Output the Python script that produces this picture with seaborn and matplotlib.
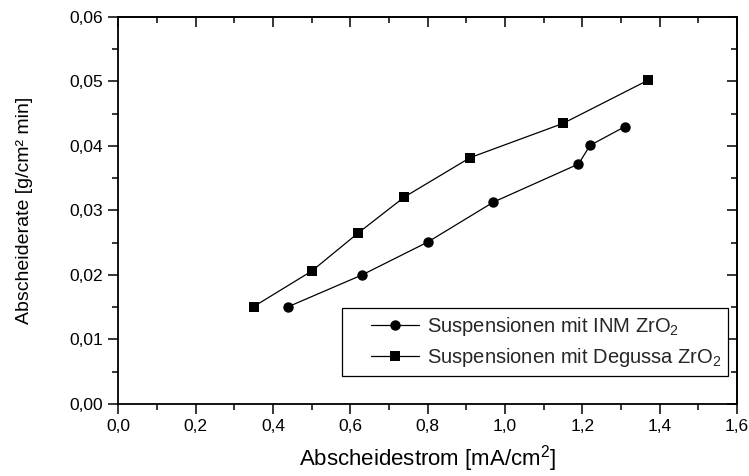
import matplotlib
matplotlib.use("Agg")
import matplotlib.pyplot as plt
from matplotlib.ticker import MultipleLocator, FuncFormatter
from matplotlib.legend_handler import HandlerLine2D
import seaborn as sns
import pandas as pd

# Deposition current density [mA/cm2] and deposition rate [g/(cm2 min)]
inm_current = [0.44, 0.63, 0.80, 0.97, 1.19, 1.22, 1.31]
inm_rate = [0.0151, 0.0200, 0.0251, 0.0313, 0.0372, 0.0401, 0.0430]
degussa_current = [0.35, 0.50, 0.62, 0.74, 0.91, 1.15, 1.37]
degussa_rate = [0.0151, 0.0206, 0.0265, 0.0321, 0.0382, 0.0435, 0.0502]

series_labels = ["Suspensionen mit INM ZrO$_2$", "Suspensionen mit Degussa ZrO$_2$"]
x_ticks = [0.0, 0.2, 0.4, 0.6, 0.8, 1.0, 1.2, 1.4, 1.6]
y_ticks = [0.00, 0.01, 0.02, 0.03, 0.04, 0.05, 0.06]

df = pd.concat([
    pd.DataFrame({"strom": inm_current, "rate": inm_rate, "serie": series_labels[0]}),
    pd.DataFrame({"strom": degussa_current, "rate": degussa_rate, "serie": series_labels[1]}),
], ignore_index=True)

sns.set_theme(style="white")
plt.rcParams["font.family"] = ["Liberation Sans", "DejaVu Sans"]
plt.rcParams["mathtext.fontset"] = "custom"
plt.rcParams["mathtext.rm"] = "Liberation Sans"
plt.rcParams["mathtext.it"] = "Liberation Sans"


class IndentedLineHandler(HandlerLine2D):
    """Line-marker-line handle that leaves an empty margin on its left."""

    def __init__(self, indent=0.3, **kw):
        super().__init__(**kw)
        self.indent = indent

    def create_artists(self, legend, orig_handle, xdescent, ydescent,
                       width, height, fontsize, trans):
        shift = width * self.indent
        return super().create_artists(legend, orig_handle, xdescent - shift,
                                      ydescent, width - shift, height,
                                      fontsize, trans)


fig = plt.figure(figsize=(7.49, 4.76), dpi=100)
ax = fig.add_axes([0.158, 0.1513, 0.826, 0.8130])

sns.lineplot(
    data=df, x="strom", y="rate", hue="serie", style="serie",
    palette=["black", "black"], markers={series_labels[0]: "o", series_labels[1]: "s"},
    dashes=False, markersize=7.5, markeredgewidth=0, linewidth=0.9,
    sort=False, ax=ax,
)

ax.set_xlim(0, 1.6)
ax.set_ylim(0, 0.06)
ax.set_xticks(x_ticks)
ax.set_yticks(y_ticks)
ax.xaxis.set_minor_locator(MultipleLocator(0.1))
ax.yaxis.set_minor_locator(MultipleLocator(0.005))
ax.xaxis.set_major_formatter(FuncFormatter(lambda v, p: f"{v:.1f}".replace(".", ",")))
ax.yaxis.set_major_formatter(FuncFormatter(lambda v, p: f"{v:.2f}".replace(".", ",")))

for s in ax.spines.values():
    s.set_color("black")
    s.set_linewidth(1.3)

ax.tick_params(axis="both", which="both", direction="out", color="black",
               labelsize=12.5, labelcolor="black", width=1.1,
               bottom=True, left=True, top=False, right=False)
ax.tick_params(which="major", length=7, pad=4)
ax.tick_params(which="minor", length=4)

# Mirrored inward ticks on the right and top sides
ax_r = ax.secondary_yaxis("right")
ax_r.set_yticks(y_ticks)
ax_r.yaxis.set_minor_locator(MultipleLocator(0.005))
ax_r.tick_params(which="both", direction="in", labelright=False, width=1.1, color="black")
ax_r.tick_params(which="major", length=7)
ax_r.tick_params(which="minor", length=4)
ax_r.spines["right"].set_linewidth(1.3)

ax_t = ax.secondary_xaxis("top")
ax_t.set_xticks(x_ticks)
ax_t.xaxis.set_minor_locator(MultipleLocator(0.1))
ax_t.tick_params(which="both", direction="in", labeltop=False, width=1.1, color="black")
ax_t.tick_params(which="major", length=7)
ax_t.tick_params(which="minor", length=4)
ax_t.spines["top"].set_linewidth(1.3)

ax.set_xlabel("Abscheidestrom [mA/cm$^2$]", fontsize=16, color="black")
ax.set_ylabel("Abscheiderate [g/cm² min]", fontsize=14, color="black")
ax.xaxis.set_label_coords(0.5, -0.14)
ax.yaxis.set_label_coords(-0.152, 0.5)
ax.xaxis.label.set_va("center")
ax.yaxis.label.set_va("center")

handles, labels = ax.get_legend_handles_labels()
leg = ax.legend(
    handles, labels,
    loc="lower left", bbox_to_anchor=(0.362, 0.073, 0.623, 0.17), mode="expand",
    fontsize=14.5, frameon=True, fancybox=False, edgecolor="black", framealpha=1,
    handlelength=3.5, handletextpad=0.4, borderpad=0.33, labelspacing=0.42,
    borderaxespad=0, title=None,
    handler_map={h: IndentedLineHandler(indent=0.31) for h in handles},
)
leg.get_frame().set_linewidth(0.9)

fig.savefig("out.png", dpi=100)
